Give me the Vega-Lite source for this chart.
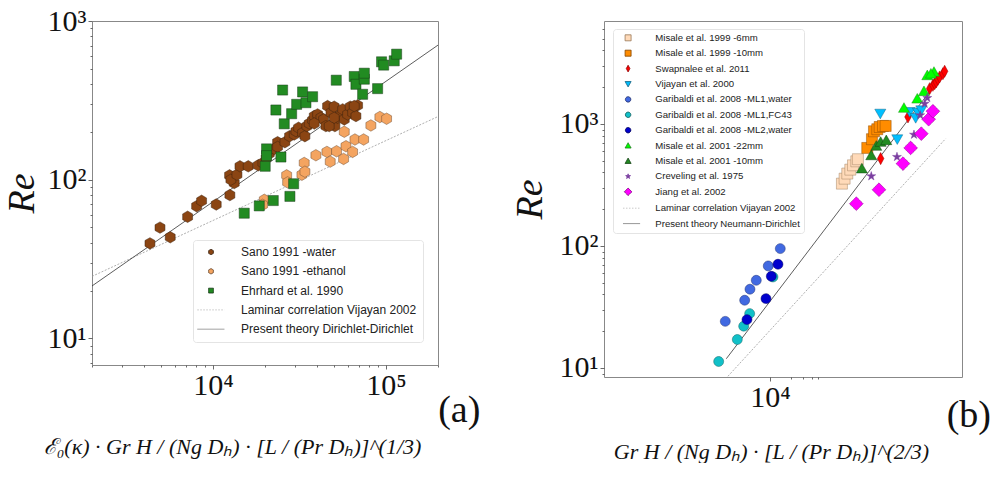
{
  "$schema": "https://vega.github.io/schema/vega-lite/v6.json",
  "background": "white",
  "padding": {"left": 2, "top": 5, "right": 0, "bottom": 0},
  "config": {
    "view": {"stroke": "#888888", "strokeWidth": 1},
    "axis": {"domain": false, "grid": false, "labelFont": "Liberation Serif", "labelFontSize": 30, "labelColor": "#111111", "titleFont": "Liberation Serif", "titleFontWeight": "normal", "titleColor": "#111111", "tickColor": "#444444", "tickWidth": 0.8, "labelOverlap": false, "labelBound": false, "labelFlush": false},
    "title": {"font": "Liberation Serif", "fontWeight": "normal", "color": "#111111"}
  },
  "spacing": 29,
  "resolve": {"scale": {"color": "independent", "shape": "independent", "stroke": "independent", "strokeDash": "independent"}, "legend": {"color": "independent", "shape": "independent", "stroke": "independent", "strokeDash": "independent"}},
  "datasets": {
    "pa": [
      {"s": "Sano 1991 -water", "x": 4325, "y": 39.7}, {"s": "Sano 1991 -water", "x": 4943, "y": 49.9}, {"s": "Sano 1991 -water", "x": 5665, "y": 43.4}, {"s": "Sano 1991 -water", "x": 7140, "y": 58.4}, {"s": "Sano 1991 -water", "x": 8050, "y": 68.1}, {"s": "Sano 1991 -water", "x": 8600, "y": 73.6}, {"s": "Sano 1991 -water", "x": 10450, "y": 69.8}, {"s": "Sano 1991 -water", "x": 12530, "y": 80.0}, {"s": "Sano 1991 -water", "x": 12480, "y": 106.5}, {"s": "Sano 1991 -water", "x": 13280, "y": 95.3}, {"s": "Sano 1991 -water", "x": 12700, "y": 100}, {"s": "Sano 1991 -water", "x": 13770, "y": 107.5}, {"s": "Sano 1991 -water", "x": 14330, "y": 121.5}, {"s": "Sano 1991 -water", "x": 16000, "y": 121.5}, {"s": "Sano 1991 -water", "x": 18280, "y": 123.2}, {"s": "Sano 1991 -water", "x": 19450, "y": 127.5}, {"s": "Sano 1991 -water", "x": 20320, "y": 137.1}, {"s": "Sano 1991 -water", "x": 21170, "y": 146.1}, {"s": "Sano 1991 -water", "x": 22630, "y": 156.4}, {"s": "Sano 1991 -water", "x": 23650, "y": 172.3}, {"s": "Sano 1991 -water", "x": 23650, "y": 161.0}, {"s": "Sano 1991 -water", "x": 26070, "y": 172.3}, {"s": "Sano 1991 -water", "x": 27740, "y": 188.0}, {"s": "Sano 1991 -water", "x": 29510, "y": 192.7}, {"s": "Sano 1991 -water", "x": 30190, "y": 202.4}, {"s": "Sano 1991 -water", "x": 31270, "y": 212.5}, {"s": "Sano 1991 -water", "x": 32980, "y": 197.4}, {"s": "Sano 1991 -water", "x": 34020, "y": 188.0}, {"s": "Sano 1991 -water", "x": 34930, "y": 217.7}, {"s": "Sano 1991 -water", "x": 36040, "y": 226.1}, {"s": "Sano 1991 -water", "x": 37680, "y": 237.5}, {"s": "Sano 1991 -water", "x": 38540, "y": 251.8}, {"s": "Sano 1991 -water", "x": 40270, "y": 257.8}, {"s": "Sano 1991 -water", "x": 42100, "y": 245.7}, {"s": "Sano 1991 -water", "x": 43620, "y": 239.7}, {"s": "Sano 1991 -water", "x": 44980, "y": 217.7}, {"s": "Sano 1991 -water", "x": 46000, "y": 291.0}, {"s": "Sano 1991 -water", "x": 48100, "y": 264.2}, {"s": "Sano 1991 -water", "x": 50250, "y": 288.4}, {"s": "Sano 1991 -water", "x": 50700, "y": 217.7}, {"s": "Sano 1991 -water", "x": 52570, "y": 245.7}, {"s": "Sano 1991 -water", "x": 54960, "y": 257.8}, {"s": "Sano 1991 -water", "x": 56230, "y": 277.4}, {"s": "Sano 1991 -water", "x": 57440, "y": 239.7}, {"s": "Sano 1991 -water", "x": 60030, "y": 257.8}, {"s": "Sano 1991 -water", "x": 62200, "y": 288.4}, {"s": "Sano 1991 -water", "x": 64180, "y": 264.2}, {"s": "Sano 1991 -water", "x": 67100, "y": 251.8}, {"s": "Sano 1991 -water", "x": 68600, "y": 294}, {"s": "Sano 1991 -water", "x": 38540, "y": 226.1}, {"s": "Sano 1991 -water", "x": 47000, "y": 217.7}, {"s": "Sano 1991 -water", "x": 50250, "y": 245.7}, {"s": "Sano 1991 -water", "x": 65600, "y": 291},
      {"s": "Sano 1991 -ethanol", "x": 19820, "y": 74.7}, {"s": "Sano 1991 -ethanol", "x": 19370, "y": 69.5}, {"s": "Sano 1991 -ethanol", "x": 26680, "y": 106.5}, {"s": "Sano 1991 -ethanol", "x": 27030, "y": 96.2}, {"s": "Sano 1991 -ethanol", "x": 32690, "y": 107.5}, {"s": "Sano 1991 -ethanol", "x": 33710, "y": 127.5}, {"s": "Sano 1991 -ethanol", "x": 34020, "y": 112.3}, {"s": "Sano 1991 -ethanol", "x": 39370, "y": 142.6}, {"s": "Sano 1991 -ethanol", "x": 45590, "y": 149.7}, {"s": "Sano 1991 -ethanol", "x": 47640, "y": 130.0}, {"s": "Sano 1991 -ethanol", "x": 51840, "y": 151.1}, {"s": "Sano 1991 -ethanol", "x": 57440, "y": 200.5}, {"s": "Sano 1991 -ethanol", "x": 58760, "y": 162.5}, {"s": "Sano 1991 -ethanol", "x": 56930, "y": 135.2}, {"s": "Sano 1991 -ethanol", "x": 64180, "y": 149.7}, {"s": "Sano 1991 -ethanol", "x": 66190, "y": 179.2}, {"s": "Sano 1991 -ethanol", "x": 74310, "y": 179.2}, {"s": "Sano 1991 -ethanol", "x": 81840, "y": 219.7}, {"s": "Sano 1991 -ethanol", "x": 92260, "y": 248.3}, {"s": "Sano 1991 -ethanol", "x": 100900, "y": 242.2},
      {"s": "Ehrhard et al. 1990", "x": 15170, "y": 61.5}, {"s": "Ehrhard et al. 1990", "x": 18530, "y": 68.4}, {"s": "Ehrhard et al. 1990", "x": 22330, "y": 73.9}, {"s": "Ehrhard et al. 1990", "x": 27860, "y": 78.5}, {"s": "Ehrhard et al. 1990", "x": 29270, "y": 94.3}, {"s": "Ehrhard et al. 1990", "x": 20050, "y": 121.5}, {"s": "Ehrhard et al. 1990", "x": 20420, "y": 156.4}, {"s": "Ehrhard et al. 1990", "x": 20420, "y": 141.8}, {"s": "Ehrhard et al. 1990", "x": 24720, "y": 139.0}, {"s": "Ehrhard et al. 1990", "x": 25840, "y": 225.0}, {"s": "Ehrhard et al. 1990", "x": 23120, "y": 274.9}, {"s": "Ehrhard et al. 1990", "x": 28510, "y": 260.6}, {"s": "Ehrhard et al. 1990", "x": 30480, "y": 298.5}, {"s": "Ehrhard et al. 1990", "x": 32980, "y": 357.3}, {"s": "Ehrhard et al. 1990", "x": 25280, "y": 367.3}, {"s": "Ehrhard et al. 1990", "x": 34500, "y": 305.7}, {"s": "Ehrhard et al. 1990", "x": 37680, "y": 333.4}, {"s": "Ehrhard et al. 1990", "x": 51640, "y": 423.6}, {"s": "Ehrhard et al. 1990", "x": 65610, "y": 446.9}, {"s": "Ehrhard et al. 1990", "x": 67100, "y": 399.1}, {"s": "Ehrhard et al. 1990", "x": 75000, "y": 429.8}, {"s": "Ehrhard et al. 1990", "x": 75000, "y": 468.9}, {"s": "Ehrhard et al. 1990", "x": 73320, "y": 345.2}, {"s": "Ehrhard et al. 1990", "x": 89540, "y": 374.9}, {"s": "Ehrhard et al. 1990", "x": 94370, "y": 553.2}, {"s": "Ehrhard et al. 1990", "x": 97000, "y": 527.3}, {"s": "Ehrhard et al. 1990", "x": 111700, "y": 561.2}, {"s": "Ehrhard et al. 1990", "x": 115300, "y": 618}
    ],
    "la": [
      {"s": "Laminar correlation Vijayan 2002", "x": 2000, "y": 24.6}, {"s": "Laminar correlation Vijayan 2002", "x": 200000, "y": 250}
    ],
    "ta": [
      {"s": "Present theory Dirichlet-Dirichlet", "x": 2000, "y": 21.4}, {"s": "Present theory Dirichlet-Dirichlet", "x": 200000, "y": 705}
    ],
    "pb": [
      {"s": "Misale et al. 1999 -6mm", "x": 110400, "y": 324}, {"s": "Misale et al. 1999 -6mm", "x": 120700, "y": 356}, {"s": "Misale et al. 1999 -6mm", "x": 132000, "y": 392}, {"s": "Misale et al. 1999 -6mm", "x": 146000, "y": 422}, {"s": "Misale et al. 1999 -6mm", "x": 159600, "y": 458}, {"s": "Misale et al. 1999 -6mm", "x": 178300, "y": 494}, {"s": "Misale et al. 1999 -6mm", "x": 188300, "y": 514},
      {"s": "Misale et al. 1999 -10mm", "x": 257000, "y": 636}, {"s": "Misale et al. 1999 -10mm", "x": 300600, "y": 750}, {"s": "Misale et al. 1999 -10mm", "x": 321400, "y": 871}, {"s": "Misale et al. 1999 -10mm", "x": 359000, "y": 905}, {"s": "Misale et al. 1999 -10mm", "x": 388600, "y": 944}, {"s": "Misale et al. 1999 -10mm", "x": 434400, "y": 963}, {"s": "Misale et al. 1999 -10mm", "x": 475100, "y": 963},
      {"s": "Swapnalee et al. 2011", "x": 401900, "y": 520}, {"s": "Swapnalee et al. 2011", "x": 1000000, "y": 1141}, {"s": "Swapnalee et al. 2011", "x": 2060000, "y": 1946}, {"s": "Swapnalee et al. 2011", "x": 2300000, "y": 2074}, {"s": "Swapnalee et al. 2011", "x": 2440000, "y": 2140}, {"s": "Swapnalee et al. 2011", "x": 2570000, "y": 2208}, {"s": "Swapnalee et al. 2011", "x": 2720000, "y": 2323}, {"s": "Swapnalee et al. 2011", "x": 2880000, "y": 2427}, {"s": "Swapnalee et al. 2011", "x": 3210000, "y": 2582}, {"s": "Swapnalee et al. 2011", "x": 3400000, "y": 2704},
      {"s": "Vijayan et al. 2000", "x": 397200, "y": 1215}, {"s": "Vijayan et al. 2000", "x": 700000, "y": 750}, {"s": "Vijayan et al. 2000", "x": 1059000, "y": 1254}, {"s": "Vijayan et al. 2000", "x": 1294000, "y": 1120}, {"s": "Vijayan et al. 2000", "x": 1397000, "y": 1238}, {"s": "Vijayan et al. 2000", "x": 1560000, "y": 1295},
      {"s": "Garibaldi et al. 2008 -ML1,water", "x": 2250, "y": 24.1}, {"s": "Garibaldi et al. 2008 -ML1,water", "x": 4300, "y": 35.9}, {"s": "Garibaldi et al. 2008 -ML1,water", "x": 5130, "y": 44.2}, {"s": "Garibaldi et al. 2008 -ML1,water", "x": 6330, "y": 52.3}, {"s": "Garibaldi et al. 2008 -ML1,water", "x": 9440, "y": 68.6}, {"s": "Garibaldi et al. 2008 -ML1,water", "x": 14100, "y": 95.1},
      {"s": "Garibaldi et al. 2008 -ML1,FC43", "x": 1805, "y": 11.3}, {"s": "Garibaldi et al. 2008 -ML1,FC43", "x": 3360, "y": 17.1}, {"s": "Garibaldi et al. 2008 -ML1,FC43", "x": 4160, "y": 22.0}, {"s": "Garibaldi et al. 2008 -ML1,FC43", "x": 5080, "y": 27.9}, {"s": "Garibaldi et al. 2008 -ML1,FC43", "x": 11050, "y": 55.7},
      {"s": "Garibaldi et al. 2008 -ML2,water", "x": 4640, "y": 24.9}, {"s": "Garibaldi et al. 2008 -ML2,water", "x": 8750, "y": 37.0}, {"s": "Garibaldi et al. 2008 -ML2,water", "x": 10450, "y": 56.4}, {"s": "Garibaldi et al. 2008 -ML2,water", "x": 13060, "y": 70.8},
      {"s": "Misale et al. 2001 -22mm", "x": 875000, "y": 1353}, {"s": "Misale et al. 2001 -22mm", "x": 1365000, "y": 1611}, {"s": "Misale et al. 2001 -22mm", "x": 1706000, "y": 1853}, {"s": "Misale et al. 2001 -22mm", "x": 1906000, "y": 2505}, {"s": "Misale et al. 2001 -22mm", "x": 2383000, "y": 2668}, {"s": "Misale et al. 2001 -22mm", "x": 2150000, "y": 2580},
      {"s": "Misale et al. 2001 -10mm", "x": 215000, "y": 431}, {"s": "Misale et al. 2001 -10mm", "x": 293800, "y": 553}, {"s": "Misale et al. 2001 -10mm", "x": 347400, "y": 661}, {"s": "Misale et al. 2001 -10mm", "x": 401900, "y": 712}, {"s": "Misale et al. 2001 -10mm", "x": 485000, "y": 735},
      {"s": "Creveling et al. 1975", "x": 293800, "y": 373}, {"s": "Creveling et al. 1975", "x": 693000, "y": 537}, {"s": "Creveling et al. 1975", "x": 1222000, "y": 817}, {"s": "Creveling et al. 1975", "x": 1506000, "y": 1178}, {"s": "Creveling et al. 1975", "x": 1745000, "y": 1466}, {"s": "Creveling et al. 1975", "x": 1906000, "y": 1633},
      {"s": "Jiang et al. 2002", "x": 178300, "y": 222}, {"s": "Jiang et al. 2002", "x": 380000, "y": 289}, {"s": "Jiang et al. 2002", "x": 847000, "y": 473}, {"s": "Jiang et al. 2002", "x": 1094000, "y": 636}, {"s": "Jiang et al. 2002", "x": 1560000, "y": 832}, {"s": "Jiang et al. 2002", "x": 1995000, "y": 1093}, {"s": "Jiang et al. 2002", "x": 2300000, "y": 1271}
    ],
    "lb": [
      {"s": "Laminar correlation Vijayan 2002", "x": 2460, "y": 8.55}, {"s": "Laminar correlation Vijayan 2002", "x": 3520000, "y": 758}
    ],
    "tb": [
      {"s": "Present theory Neumann-Dirichlet", "x": 2330, "y": 11.9}, {"s": "Present theory Neumann-Dirichlet", "x": 3400000, "y": 2668}
    ]
  },
  "hconcat": [
    {
      "width": 346,
      "height": 344,
      "title": {"text": "(a)", "orient": "bottom", "anchor": "end", "fontSize": 38, "dx": 42, "dy": -65, "offset": 0},
      "layer": [
        {
          "data": {"name": "la"},
          "mark": {"type": "line", "color": "#9a9a9a", "strokeWidth": 0.8, "strokeDash": [2, 1.5], "clip": true},
          "encoding": {
            "x": {"field": "x", "type": "quantitative", "scale": {"type": "log", "domain": [2000, 200000], "nice": false},
              "axis": {"values": [2000, 3000, 4000, 5000, 6000, 7000, 8000, 9000, 10000, 20000, 30000, 40000, 50000, 60000, 70000, 80000, 90000, 100000, 200000],
                "labelExpr": "datum.value == 10000 ? '10⁴' : datum.value == 100000 ? '10⁵' : ''",
                "tickSize": {"condition": {"test": "datum.value == 10000 || datum.value == 100000", "value": 4}, "value": 2},
                "labelPadding": 1,
                "title": "ℰ₀(κ) · Gr H / (Ng Dₕ) · [L / (Pr Dₕ)]^(1/3)",
                "titleFontSize": 22, "titleFontStyle": "italic", "titleX": 140, "titleY": 81, "titleBaseline": "middle", "titleAlign": "center"}},
            "y": {"field": "y", "type": "quantitative", "scale": {"type": "log", "domain": [6.8, 1000], "nice": false},
              "axis": {"values": [7, 8, 9, 10, 20, 30, 40, 50, 60, 70, 80, 90, 100, 200, 300, 400, 500, 600, 700, 800, 900, 1000],
                "labelExpr": "datum.value == 10 ? '10¹' : datum.value == 100 ? '10²' : datum.value == 1000 ? '10³' : ''",
                "tickSize": {"condition": {"test": "datum.value == 10 || datum.value == 100 || datum.value == 1000", "value": 4}, "value": 2},
                "labelPadding": 2,
                "title": "Re", "titleFontSize": 38, "titleFontStyle": "italic", "titlePadding": 6}}
          }
        },
        {
          "data": {"name": "ta"},
          "mark": {"type": "line", "color": "#333333", "strokeWidth": 0.8, "clip": true},
          "encoding": {
            "x": {"field": "x", "type": "quantitative"},
            "y": {"field": "y", "type": "quantitative"}
          }
        },
        {
          "data": {"name": "pa"},
          "mark": {"type": "point", "filled": true, "opacity": 1, "size": 132, "strokeWidth": 0.5},
          "encoding": {
            "x": {"field": "x", "type": "quantitative"},
            "y": {"field": "y", "type": "quantitative"},
            "color": {"field": "s", "type": "nominal",
              "scale": {"domain": ["Sano 1991 -water", "Sano 1991 -ethanol", "Ehrhard et al. 1990", "Laminar correlation Vijayan 2002", "Present theory Dirichlet-Dirichlet"],
                "range": ["#8B4513", "#F4A460", "#228B22", "#ffffff", "#ffffff"]},
              "legend": {"title": null, "orient": "none", "legendX": 101, "legendY": 219, "labelFont": "Liberation Sans", "labelFontSize": 12, "labelColor": "#222222", "symbolSize": 30, "symbolStrokeWidth": 0.9, "rowPadding": 7.3, "labelOffset": 24, "symbolOffset": 6, "padding": 6, "strokeColor": "#e4e4e4", "fillColor": "#ffffff", "cornerRadius": 3, "labelLimit": 400}},
            "shape": {"field": "s", "type": "nominal",
              "scale": {"domain": ["Sano 1991 -water", "Sano 1991 -ethanol", "Ehrhard et al. 1990", "Laminar correlation Vijayan 2002", "Present theory Dirichlet-Dirichlet"],
                "range": ["M0,-1L0.866,-0.5L0.866,0.5L0,1L-0.866,0.5L-0.866,-0.5Z", "M0,-1L0.866,-0.5L0.866,0.5L0,1L-0.866,0.5L-0.866,-0.5Z", "M-0.88,-0.88L0.88,-0.88L0.88,0.88L-0.88,0.88Z", "M-5,0L4.9,0", "M-5,0L4.9,0"]},
              "legend": {"title": null, "orient": "none", "legendX": 101, "legendY": 219, "labelFont": "Liberation Sans", "labelFontSize": 12, "labelColor": "#222222", "symbolSize": 30, "symbolStrokeWidth": 0.9, "rowPadding": 7.3, "labelOffset": 24, "symbolOffset": 6, "padding": 6, "strokeColor": "#e4e4e4", "fillColor": "#ffffff", "cornerRadius": 3, "labelLimit": 400}},
            "stroke": {"field": "s", "type": "nominal",
              "scale": {"domain": ["Sano 1991 -water", "Sano 1991 -ethanol", "Ehrhard et al. 1990", "Laminar correlation Vijayan 2002", "Present theory Dirichlet-Dirichlet"],
                "range": ["#3a2210", "#6a4a30", "#1a3a1a", "#bdbdbd", "#8a8a8a"]},
              "legend": {"title": null, "orient": "none", "legendX": 101, "legendY": 219, "labelFont": "Liberation Sans", "labelFontSize": 12, "labelColor": "#222222", "symbolSize": 30, "symbolStrokeWidth": 0.9, "rowPadding": 7.3, "labelOffset": 24, "symbolOffset": 6, "padding": 6, "strokeColor": "#e4e4e4", "fillColor": "#ffffff", "cornerRadius": 3, "labelLimit": 400}},
            "strokeDash": {"field": "s", "type": "nominal",
              "scale": {"domain": ["Sano 1991 -water", "Sano 1991 -ethanol", "Ehrhard et al. 1990", "Laminar correlation Vijayan 2002", "Present theory Dirichlet-Dirichlet"],
                "range": [[1, 0], [1, 0], [1, 0], [1.5, 1.5], [1, 0]]},
              "legend": {"title": null, "orient": "none", "legendX": 101, "legendY": 219, "labelFont": "Liberation Sans", "labelFontSize": 12, "labelColor": "#222222", "symbolSize": 30, "symbolStrokeWidth": 0.9, "rowPadding": 7.3, "labelOffset": 24, "symbolOffset": 6, "padding": 6, "strokeColor": "#e4e4e4", "fillColor": "#ffffff", "cornerRadius": 3, "labelLimit": 400}}
          }
        }
      ]
    },
    {
      "width": 358,
      "height": 356,
      "title": {"text": "(b)", "orient": "bottom", "anchor": "end", "fontSize": 38, "dx": 29, "dy": -65, "offset": 0},
      "layer": [
        {
          "data": {"name": "lb"},
          "mark": {"type": "line", "color": "#9a9a9a", "strokeWidth": 0.8, "strokeDash": [2, 1.5], "clip": true},
          "encoding": {
            "x": {"field": "x", "type": "quantitative", "scale": {"type": "log", "domain": [39.3, 6070000], "nice": false},
              "axis": {"values": [10000, 20000, 30000, 40000, 50000],
                "labelExpr": "datum.value == 10000 ? '10⁴' : ''",
                "tickSize": {"condition": {"test": "datum.value == 10000", "value": 4}, "value": 2},
                "labelPadding": 1,
                "title": "Gr H / (Ng Dₕ) · [L / (Pr Dₕ)]^(2/3)",
                "titleFontSize": 22, "titleFontStyle": "italic", "titleX": 167, "titleY": 74, "titleBaseline": "middle", "titleAlign": "center"}},
            "y": {"field": "y", "type": "quantitative", "scale": {"type": "log", "domain": [8.43, 6980], "nice": false},
              "axis": {"values": [9, 10, 20, 30, 40, 50, 60, 70, 80, 90, 100, 200, 300, 400, 500, 600, 700, 800, 900, 1000, 2000, 3000, 4000, 5000, 6000],
                "labelExpr": "datum.value == 10 ? '10¹' : datum.value == 100 ? '10²' : datum.value == 1000 ? '10³' : ''",
                "tickSize": {"condition": {"test": "datum.value == 10 || datum.value == 100 || datum.value == 1000", "value": 4}, "value": 2},
                "labelPadding": 2,
                "title": "Re", "titleFontSize": 38, "titleFontStyle": "italic", "titlePadding": 10}}
          }
        },
        {
          "data": {"name": "tb"},
          "mark": {"type": "line", "color": "#333333", "strokeWidth": 0.8, "clip": true},
          "encoding": {
            "x": {"field": "x", "type": "quantitative"},
            "y": {"field": "y", "type": "quantitative"}
          }
        },
        {
          "data": {"name": "pb"},
          "mark": {"type": "point", "filled": true, "opacity": 1, "size": 121, "strokeWidth": 0.5},
          "encoding": {
            "x": {"field": "x", "type": "quantitative"},
            "y": {"field": "y", "type": "quantitative"},
            "color": {"field": "s", "type": "nominal",
              "scale": {"domain": ["Misale et al. 1999 -6mm", "Misale et al. 1999 -10mm", "Swapnalee et al. 2011", "Vijayan et al. 2000", "Garibaldi et al. 2008 -ML1,water", "Garibaldi et al. 2008 -ML1,FC43", "Garibaldi et al. 2008 -ML2,water", "Misale et al. 2001 -22mm", "Misale et al. 2001 -10mm", "Creveling et al. 1975", "Jiang et al. 2002", "Laminar correlation Vijayan 2002", "Present theory Neumann-Dirichlet"],
                "range": ["#FFDAB9", "#FF8C00", "#FF0000", "#00BFFF", "#4169E1", "#11C0C8", "#0000CD", "#00FF00", "#228B22", "#7B3FA0", "#FF00FF", "#ffffff", "#ffffff"]},
              "legend": {"title": null, "orient": "none", "legendX": 9, "legendY": 8, "labelFont": "Liberation Sans", "labelFontSize": 9.6, "labelColor": "#222222", "symbolSize": 36, "symbolStrokeWidth": 0.9, "rowPadding": 4.4, "labelOffset": 22.4, "symbolOffset": 6.3, "padding": 4, "strokeColor": "#e4e4e4", "fillColor": "#ffffff", "cornerRadius": 3, "labelLimit": 400}},
            "shape": {"field": "s", "type": "nominal",
              "scale": {"domain": ["Misale et al. 1999 -6mm", "Misale et al. 1999 -10mm", "Swapnalee et al. 2011", "Vijayan et al. 2000", "Garibaldi et al. 2008 -ML1,water", "Garibaldi et al. 2008 -ML1,FC43", "Garibaldi et al. 2008 -ML2,water", "Misale et al. 2001 -22mm", "Misale et al. 2001 -10mm", "Creveling et al. 1975", "Jiang et al. 2002", "Laminar correlation Vijayan 2002", "Present theory Neumann-Dirichlet"],
                "range": ["M-1,-1L1,-1L1,1L-1,1Z", "M-1,-1L1,-1L1,1L-1,1Z", "M0,-1.1L0.6,0L0,1.1L-0.6,0Z", "M-1,-0.8L1,-0.8L0,0.95Z", "M0.9,0A0.9,0.9,0,1,1,-0.9,0A0.9,0.9,0,1,1,0.9,0Z", "M0.9,0A0.9,0.9,0,1,1,-0.9,0A0.9,0.9,0,1,1,0.9,0Z", "M0.9,0A0.9,0.9,0,1,1,-0.9,0A0.9,0.9,0,1,1,0.9,0Z", "M0,-0.95L1,0.8L-1,0.8Z", "M0,-0.95L1,0.8L-1,0.8Z", "M0,-0.85L0.191,-0.263L0.808,-0.263L0.309,0.1L0.5,0.688L0,0.325L-0.5,0.688L-0.309,0.1L-0.808,-0.263L-0.191,-0.263Z", "M0,-1.25L1.25,0L0,1.25L-1.25,0Z", "M-1.7,0L4,0", "M-1.7,0L4,0"]},
              "legend": {"title": null, "orient": "none", "legendX": 9, "legendY": 8, "labelFont": "Liberation Sans", "labelFontSize": 9.6, "labelColor": "#222222", "symbolSize": 36, "symbolStrokeWidth": 0.9, "rowPadding": 4.4, "labelOffset": 22.4, "symbolOffset": 6.3, "padding": 4, "strokeColor": "#e4e4e4", "fillColor": "#ffffff", "cornerRadius": 3, "labelLimit": 400}},
            "stroke": {"field": "s", "type": "nominal",
              "scale": {"domain": ["Misale et al. 1999 -6mm", "Misale et al. 1999 -10mm", "Swapnalee et al. 2011", "Vijayan et al. 2000", "Garibaldi et al. 2008 -ML1,water", "Garibaldi et al. 2008 -ML1,FC43", "Garibaldi et al. 2008 -ML2,water", "Misale et al. 2001 -22mm", "Misale et al. 2001 -10mm", "Creveling et al. 1975", "Jiang et al. 2002", "Laminar correlation Vijayan 2002", "Present theory Neumann-Dirichlet"],
                "range": ["#a08060", "#8a4a00", "#900000", "#106080", "#203070", "#106060", "#000060", "#208020", "#104010", "#7B3FA0", "#800080", "#c4c4c4", "#8a8a8a"]},
              "legend": {"title": null, "orient": "none", "legendX": 9, "legendY": 8, "labelFont": "Liberation Sans", "labelFontSize": 9.6, "labelColor": "#222222", "symbolSize": 36, "symbolStrokeWidth": 0.9, "rowPadding": 4.4, "labelOffset": 22.4, "symbolOffset": 6.3, "padding": 4, "strokeColor": "#e4e4e4", "fillColor": "#ffffff", "cornerRadius": 3, "labelLimit": 400}},
            "strokeDash": {"field": "s", "type": "nominal",
              "scale": {"domain": ["Misale et al. 1999 -6mm", "Misale et al. 1999 -10mm", "Swapnalee et al. 2011", "Vijayan et al. 2000", "Garibaldi et al. 2008 -ML1,water", "Garibaldi et al. 2008 -ML1,FC43", "Garibaldi et al. 2008 -ML2,water", "Misale et al. 2001 -22mm", "Misale et al. 2001 -10mm", "Creveling et al. 1975", "Jiang et al. 2002", "Laminar correlation Vijayan 2002", "Present theory Neumann-Dirichlet"],
                "range": [[1, 0], [1, 0], [1, 0], [1, 0], [1, 0], [1, 0], [1, 0], [1, 0], [1, 0], [1, 0], [1, 0], [1.5, 1.5], [1, 0]]},
              "legend": {"title": null, "orient": "none", "legendX": 9, "legendY": 8, "labelFont": "Liberation Sans", "labelFontSize": 9.6, "labelColor": "#222222", "symbolSize": 36, "symbolStrokeWidth": 0.9, "rowPadding": 4.4, "labelOffset": 22.4, "symbolOffset": 6.3, "padding": 4, "strokeColor": "#e4e4e4", "fillColor": "#ffffff", "cornerRadius": 3, "labelLimit": 400}}
          }
        }
      ]
    }
  ]
}
